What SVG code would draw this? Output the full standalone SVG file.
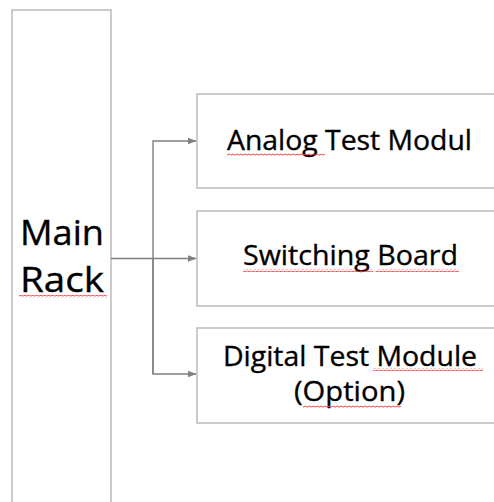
<svg xmlns="http://www.w3.org/2000/svg" width="494" height="502" viewBox="0 0 494 502">
<style>
.box{fill:#ffffff;stroke:#c0c0c0;stroke-width:1.6}
.lbl{font-family:"Open Sans","Noto Sans",sans-serif;fill:#000000;stroke:#000000;stroke-width:0.35;text-anchor:middle}
.con{fill:none;stroke:#808080;stroke-width:1.4}
.sq{fill:url(#squig)}
</style>
<defs>
<marker id="arr" markerWidth="9" markerHeight="8" refX="8.5" refY="4" orient="auto" markerUnits="userSpaceOnUse">
<path d="M0,0.5 L9,4 L0,7.5 Z" fill="#808080"/>
</marker>
<pattern id="squig" x="0" y="0" width="4" height="3" patternUnits="userSpaceOnUse">
<path d="M0,2 Q1,0 2,1.5 T4,1.5" fill="none" stroke="#f04848" stroke-width="1"/>
</pattern>
</defs>
<rect width="494" height="502" fill="#ffffff"/>
<g id="main-rack">
<rect class="box" x="12" y="10" width="99" height="500"/>
<text class="lbl" x="62" y="245" font-size="34" textLength="84" lengthAdjust="spacingAndGlyphs">Main</text>
<text class="lbl" x="62" y="292" font-size="34" textLength="84" lengthAdjust="spacingAndGlyphs">Rack</text>
<rect class="sq" x="19" y="295" width="88" height="3"/>
</g>
<g id="analog">
<rect class="box" x="197" y="94" width="310" height="94"/>
<text class="lbl" x="349.5" y="150" font-size="28" textLength="245" lengthAdjust="spacingAndGlyphs">Analog Test Modul</text>
<rect class="sq" x="227" y="153" width="98" height="3"/>
</g>
<g id="switching">
<rect class="box" x="197" y="211" width="310" height="95"/>
<text class="lbl" x="350.5" y="265" font-size="28" textLength="215" lengthAdjust="spacingAndGlyphs">Switching Board</text>
<rect class="sq" x="243" y="269" width="130" height="3"/>
<rect class="sq" x="376" y="269" width="83" height="3"/>
</g>
<g id="digital">
<rect class="box" x="197" y="328" width="310" height="95"/>
<text class="lbl" x="350" y="366" font-size="28" textLength="254" lengthAdjust="spacingAndGlyphs">Digital Test Module</text>
<text class="lbl" x="349.5" y="401" font-size="28" textLength="111" lengthAdjust="spacingAndGlyphs">(Option)</text>
<rect class="sq" x="373" y="368" width="110" height="3"/>
<rect class="sq" x="303" y="405" width="98" height="3"/>
</g>
<g id="connectors">
<line class="con" x1="111" y1="258.5" x2="196" y2="258.5" marker-end="url(#arr)"/>
<path class="con" d="M153,374 L153,141 L196,141" marker-end="url(#arr)"/>
<path class="con" d="M153,258.5 L153,374 L196,374" marker-end="url(#arr)"/>
</g>
</svg>
